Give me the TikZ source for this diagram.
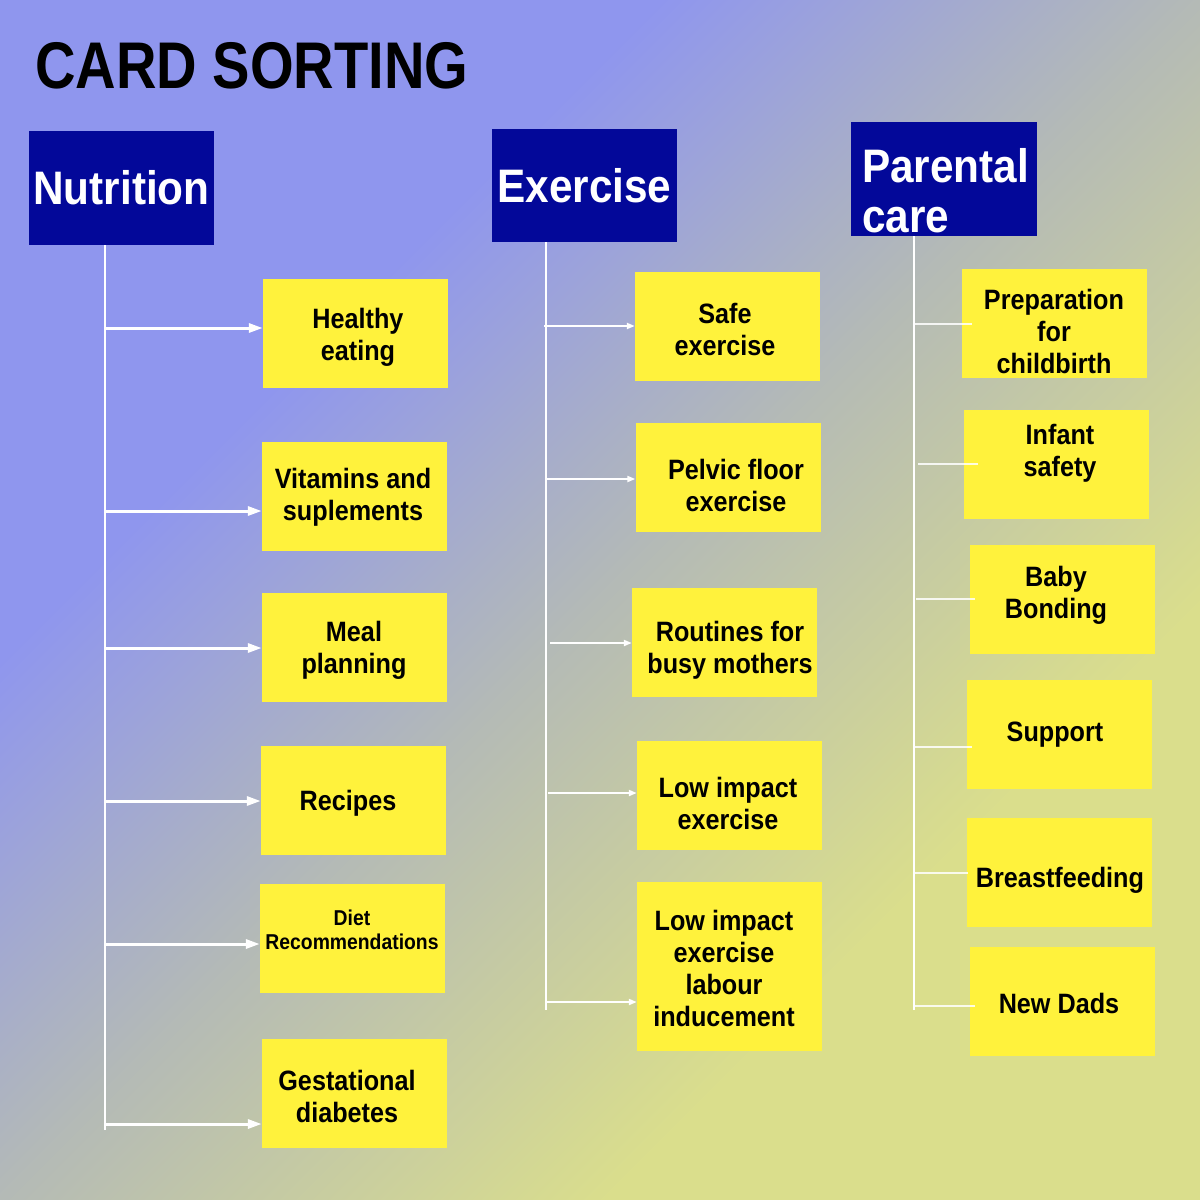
\documentclass[tikz,border=0pt]{standalone}
\usepackage{fontspec}
\setmainfont{Liberation Sans}
\newfontfamily\cardfont[FakeStretch=0.9]{Liberation Sans}
\newfontfamily\headfont[FakeStretch=0.9]{Liberation Sans}
\newfontfamily\titlefont[FakeStretch=0.85]{Liberation Sans}
\usetikzlibrary{arrows.meta}
\definecolor{bgA}{RGB}{143,150,238}
\definecolor{bgB}{RGB}{180,186,182}
\definecolor{bgC}{RGB}{218,222,140}
\definecolor{cardY}{RGB}{255,242,60}
\definecolor{hdrB}{RGB}{3,8,153}
\pgfdeclarehorizontalshading{bgshade}{100bp}{color(0bp)=(bgA); color(34bp)=(bgA); color(50bp)=(bgB); color(68bp)=(bgC); color(100bp)=(bgC)}
\newcommand\mycard[5][]{\node[card] (#2) at (#3) {}; \node[ctext,#1] (#2t) at (#4) {#5};}
\begin{document}
\begin{tikzpicture}[x=1pt,y=-1pt,
  card/.style={fill=cardY, minimum width=185pt, minimum height=109pt, inner sep=0pt, draw=none},
  ctext/.style={font=\cardfont\bfseries\fontsize{28}{32}\selectfont, align=center, inner sep=0pt, text=black},
  hdr/.style={fill=hdrB, minimum width=185pt, minimum height=114pt, inner sep=0pt, text=white, font=\headfont\bfseries\fontsize{47}{50}\selectfont},
  vline/.style={draw=white, line width=1.3pt},
  arrN/.style={draw=white, line width=3pt, -{Triangle[length=14pt,width=9pt]}},
  arrE/.style={draw=white, line width=2pt, -{Triangle[length=8pt,width=6pt]}},
  lineP/.style={draw=white, line width=1.6pt, opacity=0.85}]
\shade[shading=bgshade, shading angle=-45] (0,0) rectangle (1200,1200);
\useasboundingbox (0,0) rectangle (1200,1200);

\node[anchor=base west, inner sep=0pt, font=\titlefont\bfseries\fontsize{66}{70}\selectfont, text=black] (title) at (35,88) {CARD SORTING};

% headers
\node[hdr] (hN) at (121.5,188) {Nutrition};
\node[hdr, minimum height=113pt] (hE) at (584.5,185.5) {Exercise};
\node[hdr, minimum width=186pt] (hP) at (944,179) {};
\node[anchor=north west, align=left, inner sep=0pt, text=white, font=\headfont\bfseries\fontsize{47}{50}\selectfont] (hPt) at (862,148.5) {Parental\\care};

% Nutrition cards
\mycard{n1}{355.5,333.5}{358,337}{Healthy\\eating}
\mycard{n2}{354.5,496}{353,497}{Vitamins and\\suplements}
\mycard{n3}{354.5,647}{354,650}{Meal\\planning}
\mycard{n4}{353.5,800.5}{348,803}{Recipes}
\mycard[font=\cardfont\bfseries\fontsize{21.5}{24}\selectfont]{n5}{352.5,938}{352,930}{Diet\\Recommendations}
\mycard{n6}{354.5,1093.5}{347,1096}{Gestational\\diabetes}

% Exercise cards
\mycard{e1}{727.5,326}{725,329}{Safe\\exercise}
\mycard{e2}{728,477.5}{736,485}{Pelvic floor\\exercise}
\mycard{e3}{724.5,642}{730,650}{Routines for\\busy mothers}
\mycard{e4}{729.5,795.5}{728,803}{Low impact\\exercise}
\node[card, minimum height=169pt] (e5) at (729.5,966.5) {};
\node[ctext] (e5t) at (724,968) {Low impact\\exercise\\labour\\inducement};

% Parental care cards
\mycard{p1}{1054,323}{1054,331}{Preparation\\for\\childbirth}
\mycard{p2}{1056,464.5}{1060,453}{Infant\\safety}
\mycard{p3}{1062.5,599.5}{1056,595}{Baby\\Bonding}
\mycard{p4}{1059.5,734.5}{1055,735}{Support}
\mycard{p5}{1059.5,872.5}{1060,880}{Breastfeeding}
\mycard{p6}{1062,1001.5}{1059,1003}{New Dads}

% Nutrition connectors
\coordinate (nx) at (105,0);
\coordinate (nEnd) at (105,1130);
\draw[vline] (hN.south -| nx) -- (nEnd);
\coordinate (na1) at (106,328);
\coordinate (na2) at (106,511);
\coordinate (na3) at (106,648);
\coordinate (na4) at (106,801);
\coordinate (na5) at (106,944);
\coordinate (na6) at (106,1124);
\draw[arrN] (na1) -- (na1 -| n1.west);
\draw[arrN] (na2) -- (na2 -| n2.west);
\draw[arrN] (na3) -- (na3 -| n3.west);
\draw[arrN] (na4) -- (na4 -| n4.west);
\draw[arrN] (na5) -- (na5 -| n5.west);
\draw[arrN] (na6) -- (na6 -| n6.west);

% Exercise connectors
\coordinate (ex) at (546,0);
\coordinate (eEnd) at (546,1010);
\draw[vline] (hE.south -| ex) -- (eEnd);
\coordinate (ea1) at (544,326);
\coordinate (ea2) at (546,479);
\coordinate (ea3) at (550,643);
\coordinate (ea4) at (548,793);
\coordinate (ea5) at (547,1002);
\draw[arrE] (ea1) -- (ea1 -| e1.west);
\draw[arrE] (ea2) -- (ea2 -| e2.west);
\draw[arrE] (ea3) -- (ea3 -| e3.west);
\draw[arrE] (ea4) -- (ea4 -| e4.west);
\draw[arrE] (ea5) -- (ea5 -| e5.west);

% Parental connectors
\coordinate (px) at (914,0);
\coordinate (pEnd) at (914,1010);
\draw[vline] (hP.south -| px) -- (pEnd);
\coordinate (pa1) at (914,324);  \coordinate (pb1) at (972,324);
\coordinate (pa2) at (918,464);  \coordinate (pb2) at (978,464);
\coordinate (pa3) at (916,599);  \coordinate (pb3) at (975,599);
\coordinate (pa4) at (914,747);  \coordinate (pb4) at (972,747);
\coordinate (pa5) at (914,873);  \coordinate (pb5) at (968,873);
\coordinate (pa6) at (914,1006); \coordinate (pb6) at (975,1006);
\draw[lineP] (pa1) -- (pb1);
\draw[lineP] (pa2) -- (pb2);
\draw[lineP] (pa3) -- (pb3);
\draw[lineP] (pa4) -- (pb4);
\draw[lineP] (pa5) -- (pb5);
\draw[lineP] (pa6) -- (pb6);
\end{tikzpicture}
\end{document}
